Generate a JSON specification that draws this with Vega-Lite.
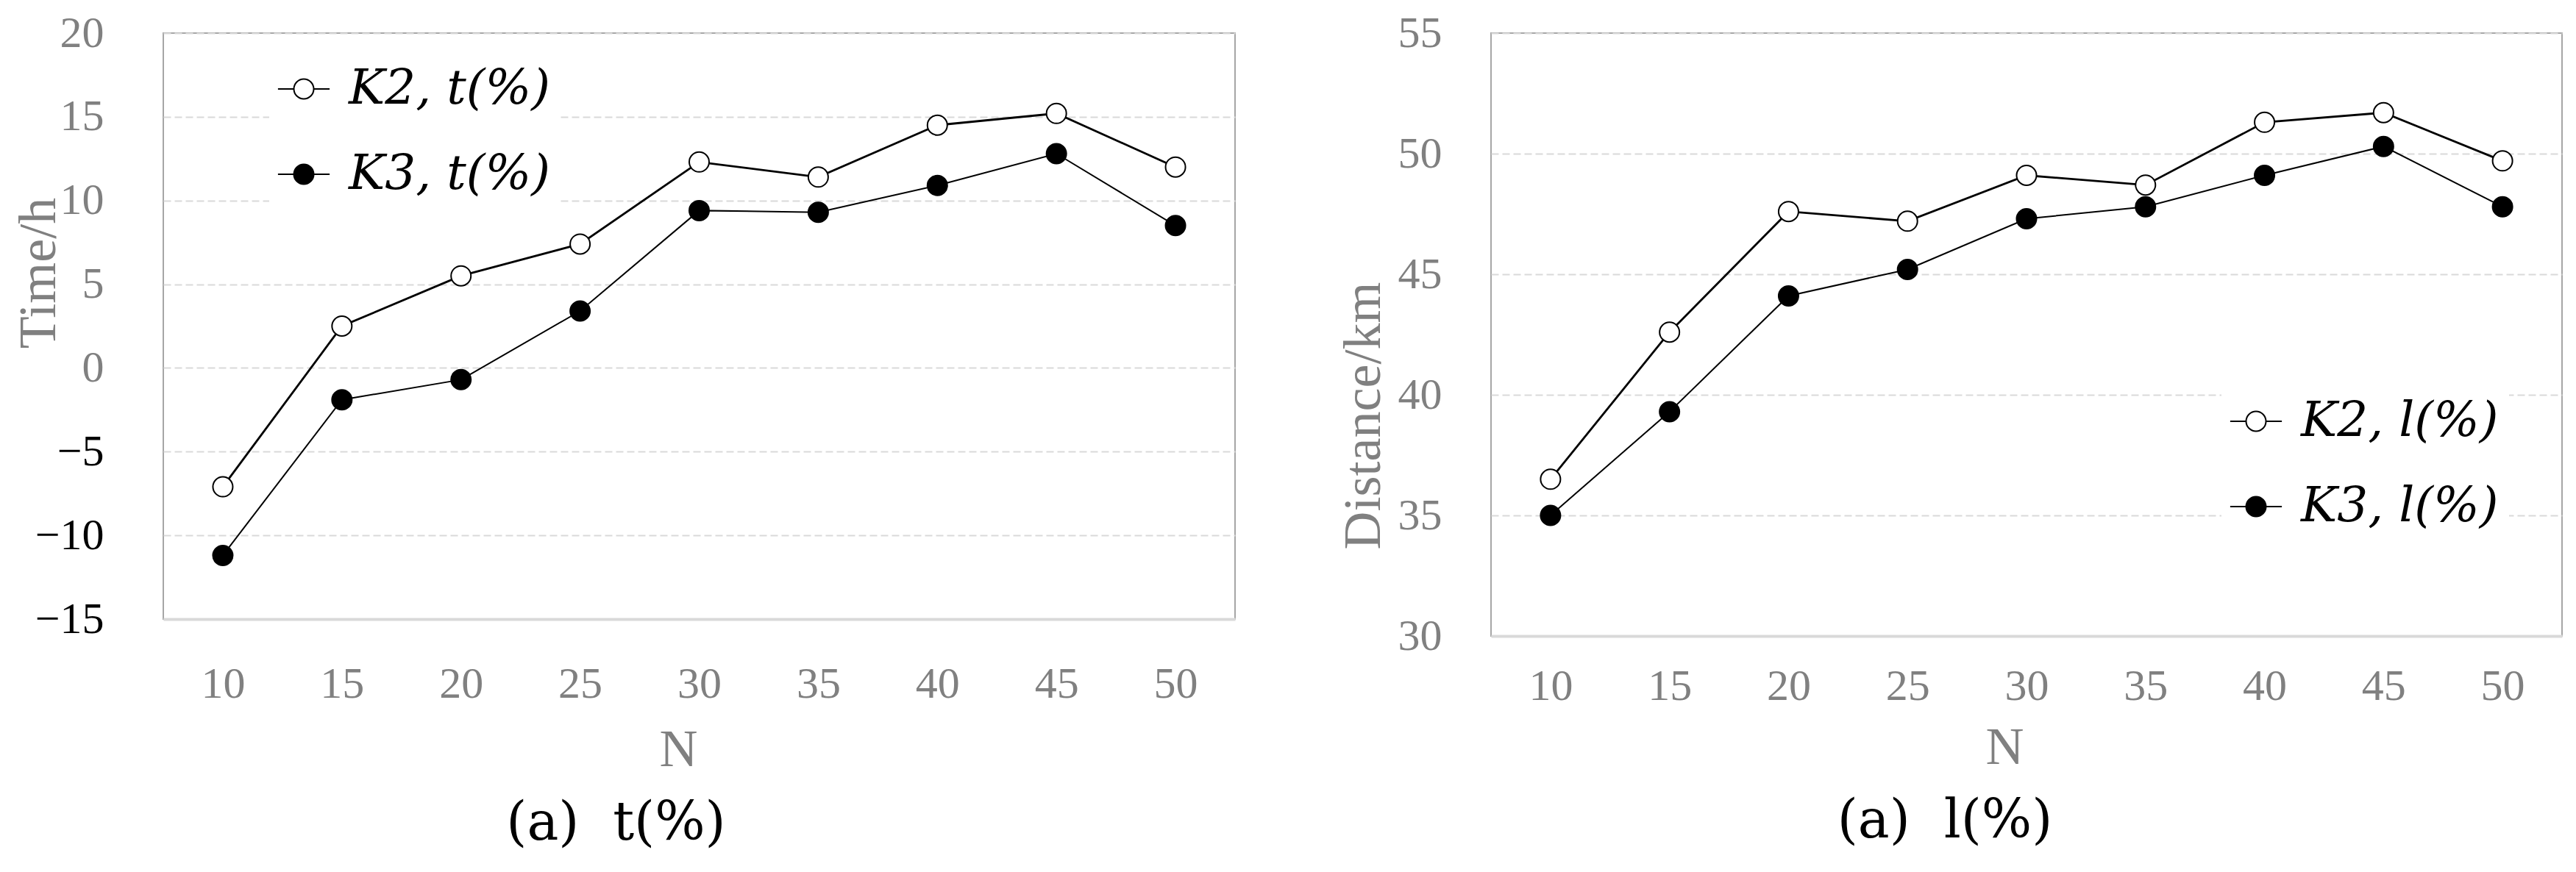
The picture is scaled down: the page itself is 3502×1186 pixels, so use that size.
{
  "$schema": "https://vega.github.io/schema/vega-lite/v6.json",
  "background": "white",
  "padding": {"left": 15, "top": 14, "right": 10, "bottom": 5},
  "bounds": "flush",
  "spacing": 348,
  "config": {
    "view": {"stroke": "#a6a6a6", "strokeWidth": 2},
    "font": "Liberation Serif",
    "axis": {
      "labelFont": "Liberation Serif",
      "titleFont": "Liberation Serif",
      "labelColor": "#808080",
      "titleColor": "#808080",
      "titleFontWeight": "normal",
      "ticks": false,
      "labelFontSize": 60,
      "titleFontSize": 72,
      "titleLimit": 0
    },
    "legend": {
      "labelFont": "DejaVu Serif",
      "labelFontStyle": "italic",
      "labelFontSize": 66,
      "labelColor": "black",
      "labelLimit": 0,
      "symbolType": "M-2.6,0H-1M1,0H2.6M-1,0A1,1,0,1,0,1,0A1,1,0,1,0,-1,0Z",
      "symbolSize": 729,
      "symbolStrokeColor": "black",
      "symbolStrokeWidth": 2,
      "symbolOpacity": 1,
      "labelOffset": 28,
      "rowPadding": 50,
      "padding": 14,
      "fillColor": "white"
    },
    "title": {"font": "DejaVu Serif", "fontSize": 72, "color": "black", "fontWeight": "normal"}
  },
  "datasets": {
    "t": [
      {"N": 10, "series": "K2, t(%)", "value": -7.1},
      {"N": 15, "series": "K2, t(%)", "value": 2.5},
      {"N": 20, "series": "K2, t(%)", "value": 5.5},
      {"N": 25, "series": "K2, t(%)", "value": 7.4},
      {"N": 30, "series": "K2, t(%)", "value": 12.3},
      {"N": 35, "series": "K2, t(%)", "value": 11.4},
      {"N": 40, "series": "K2, t(%)", "value": 14.5},
      {"N": 45, "series": "K2, t(%)", "value": 15.2},
      {"N": 50, "series": "K2, t(%)", "value": 12.0},
      {"N": 10, "series": "K3, t(%)", "value": -11.2},
      {"N": 15, "series": "K3, t(%)", "value": -1.9},
      {"N": 20, "series": "K3, t(%)", "value": -0.7},
      {"N": 25, "series": "K3, t(%)", "value": 3.4},
      {"N": 30, "series": "K3, t(%)", "value": 9.4},
      {"N": 35, "series": "K3, t(%)", "value": 9.3},
      {"N": 40, "series": "K3, t(%)", "value": 10.9},
      {"N": 45, "series": "K3, t(%)", "value": 12.8},
      {"N": 50, "series": "K3, t(%)", "value": 8.5}
    ],
    "l": [
      {"N": 10, "series": "K2, l(%)", "value": 36.5},
      {"N": 15, "series": "K2, l(%)", "value": 42.6},
      {"N": 20, "series": "K2, l(%)", "value": 47.6},
      {"N": 25, "series": "K2, l(%)", "value": 47.2},
      {"N": 30, "series": "K2, l(%)", "value": 49.1},
      {"N": 35, "series": "K2, l(%)", "value": 48.7},
      {"N": 40, "series": "K2, l(%)", "value": 51.3},
      {"N": 45, "series": "K2, l(%)", "value": 51.7},
      {"N": 50, "series": "K2, l(%)", "value": 49.7},
      {"N": 10, "series": "K3, l(%)", "value": 35.0},
      {"N": 15, "series": "K3, l(%)", "value": 39.3},
      {"N": 20, "series": "K3, l(%)", "value": 44.1},
      {"N": 25, "series": "K3, l(%)", "value": 45.2},
      {"N": 30, "series": "K3, l(%)", "value": 47.3},
      {"N": 35, "series": "K3, l(%)", "value": 47.8},
      {"N": 40, "series": "K3, l(%)", "value": 49.1},
      {"N": 45, "series": "K3, l(%)", "value": 50.3},
      {"N": 50, "series": "K3, l(%)", "value": 47.8}
    ]
  },
  "resolve": {"scale": {"fill": "independent", "x": "independent", "y": "independent"}, "legend": {"fill": "independent"}},
  "hconcat": [
    {
      "width": 1457,
      "height": 797,
      "data": {"name": "t"},
      "title": {"text": "(a)\u00a0\u00a0t(%)", "orient": "bottom", "anchor": "middle", "dx": -113, "offset": 30},
      "encoding": {
        "x": {
          "field": "N", "type": "ordinal",
          "scale": {"type": "point", "padding": 0.5},
          "axis": {"labelAngle": 0, "labelBaseline": "middle", "labelPadding": 88, "domainColor": "#d9d9d9", "domainWidth": 4, "grid": false, "title": "N", "titleX": 700, "titleY": 177, "titleBaseline": "middle"}
        },
        "y": {
          "field": "value", "type": "quantitative",
          "scale": {"domain": [-15, 20], "nice": false, "zero": false},
          "axis": {
            "values": [-15, -10, -5, 0, 5, 10, 15, 20],
            "domain": false,
            "grid": true, "gridColor": "#d9d9d9", "gridDash": [10, 5], "gridWidth": 2,
            "labelPadding": 81,
            "labelColor": {"condition": {"test": "datum.value < 0", "value": "black"}, "value": "#808080"},
            "title": "Time/h", "titleX": -170, "titleY": 326, "titleBaseline": "middle", "titleAlign": "center", "titleAngle": -90
          }
        }
      },
      "layer": [
        {
          "transform": [{"filter": "datum.series == 'K2, t(%)'"}],
          "mark": {"type": "line", "color": "black", "strokeWidth": 2.8},
          "encoding": {}
        },
        {
          "transform": [{"filter": "datum.series == 'K3, t(%)'"}],
          "mark": {"type": "line", "color": "black", "strokeWidth": 2},
          "encoding": {}
        },
        {
          "mark": {"type": "point", "shape": "circle", "filled": true, "size": 729, "stroke": "black", "strokeWidth": 2, "opacity": 1},
          "encoding": {
            "fill": {
              "field": "series", "type": "nominal",
              "scale": {"domain": ["K2, t(%)", "K3, t(%)"], "range": ["white", "black"]},
              "legend": {"title": null, "orient": "none", "legendX": 144, "legendY": 29}
            }
          }
        }
      ]
    },
    {
      "width": 1456,
      "height": 820,
      "data": {"name": "l"},
      "title": {"text": "(a)\u00a0\u00a0l(%)", "orient": "bottom", "anchor": "middle", "dx": -111, "offset": 30},
      "encoding": {
        "x": {
          "field": "N", "type": "ordinal",
          "scale": {"type": "point", "padding": 0.5},
          "axis": {"labelAngle": 0, "labelBaseline": "middle", "labelPadding": 68, "domainColor": "#d9d9d9", "domainWidth": 4, "grid": false, "title": "N", "titleX": 698, "titleY": 151, "titleBaseline": "middle"}
        },
        "y": {
          "field": "value", "type": "quantitative",
          "scale": {"domain": [30, 55], "nice": false, "zero": false},
          "axis": {
            "values": [30, 35, 40, 45, 50, 55],
            "domain": false,
            "grid": true, "gridColor": "#d9d9d9", "gridDash": [10, 5], "gridWidth": 2,
            "labelPadding": 67,
            "title": "Distance/km", "titleX": -174, "titleY": 520, "titleBaseline": "middle", "titleAlign": "center", "titleAngle": -90
          }
        }
      },
      "layer": [
        {
          "transform": [{"filter": "datum.series == 'K2, l(%)'"}],
          "mark": {"type": "line", "color": "black", "strokeWidth": 2.8},
          "encoding": {}
        },
        {
          "transform": [{"filter": "datum.series == 'K3, l(%)'"}],
          "mark": {"type": "line", "color": "black", "strokeWidth": 2},
          "encoding": {}
        },
        {
          "mark": {"type": "point", "shape": "circle", "filled": true, "size": 729, "stroke": "black", "strokeWidth": 2, "opacity": 1},
          "encoding": {
            "fill": {
              "field": "series", "type": "nominal",
              "scale": {"domain": ["K2, l(%)", "K3, l(%)"], "range": ["white", "black"]},
              "legend": {"title": null, "orient": "none", "legendX": 993, "legendY": 481}
            }
          }
        }
      ]
    }
  ]
}
